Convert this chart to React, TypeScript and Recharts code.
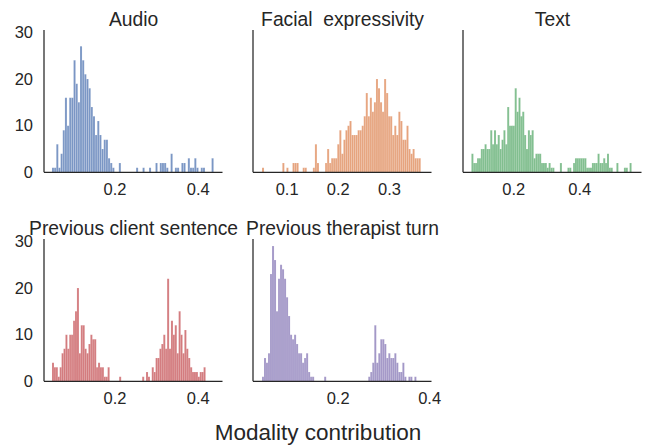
import React from 'react';
import { BarChart, Bar, XAxis, YAxis } from 'recharts';

// histogram counts per bin
const audioCounts = [
  1, 1, 6, 1, 4, 9, 16, 10, 16, 16, 24, 19, 15, 27, 24, 21, 20, 18, 14, 12, 8, 11, 8, 5, 7, 7, 3, 2, 1, 0,
  0, 2, 0, 0, 0, 0, 0, 0, 0, 1, 0, 0, 1, 0, 0, 1, 0, 0, 2, 0, 2, 2, 2, 1, 0, 4, 0, 1, 1, 0,
  2, 2, 0, 3, 1, 1, 3, 1, 0, 1, 1, 0, 0, 0, 3,
];
const facialCounts = [
  1, 0, 0, 0, 0, 0, 0, 0, 0, 0, 2, 0, 1, 0, 0, 2, 2, 2, 0, 0, 1, 1, 0, 0, 0, 1, 6, 2, 0, 0,
  0, 2, 5, 2, 3, 3, 3, 6, 9, 4, 7, 9, 10, 11, 8, 8, 8, 9, 9, 10, 12, 17, 12, 16, 13, 15, 20, 18, 15, 13,
  20, 17, 12, 12, 8, 10, 8, 13, 11, 7, 7, 10, 5, 4, 5, 3, 3, 3,
];
const textCounts = [
  4, 2, 2, 3, 3, 5, 5, 6, 5, 5, 9, 6, 9, 6, 8, 5, 7, 9, 6, 14, 10, 10, 10, 18, 13, 16, 12, 13, 8, 5,
  9, 8, 9, 3, 4, 4, 4, 2, 2, 2, 1, 2, 1, 1, 0, 0, 0, 2, 0, 0, 0, 1, 1, 0, 2, 3, 3, 3, 3, 3,
  3, 1, 1, 1, 2, 2, 2, 4, 2, 2, 3, 2, 4, 1, 1, 0, 0, 2, 0, 0, 0, 1, 1, 0, 2,
];
const clientCounts = [
  4, 3, 3, 1, 3, 6, 7, 10, 7, 10, 10, 13, 15, 20, 6, 12, 12, 7, 6, 8, 10, 9, 9, 3, 4, 3, 3, 1, 1, 3,
  0, 0, 0, 0, 0, 1, 0, 0, 0, 0, 0, 0, 0, 0, 0, 0, 0, 1, 0, 2, 1, 0, 3, 2, 5, 5, 7, 8, 10, 7,
  22, 7, 13, 10, 12, 6, 15, 10, 6, 11, 7, 5, 3, 2, 2, 2, 1, 2, 2, 3,
];
const therapistCounts = [
  1, 5, 4, 6, 23, 29, 26, 15, 22, 25, 24, 22, 18, 14, 10, 9, 10, 8, 6, 6, 4, 5, 6, 2, 1, 1, 0, 0, 0, 0,
  0, 1, 0, 0, 0, 0, 0, 0, 0, 0, 0, 0, 0, 0, 0, 0, 0, 0, 0, 0, 0, 0, 0, 1, 2, 4, 12, 4, 6, 9,
  9, 8, 5, 6, 5, 5, 6, 4, 2, 2, 4, 1, 0, 1, 1, 0, 1,
];

// first bin edge / last bin edge of each histogram
const audioEdges = [0.0487, 0.437];
const facialEdges = [0.0509, 0.361];
const textEdges = [0.0715, 0.5566];
const clientEdges = [0.0487, 0.4172];
const therapistEdges = [0.0335, 0.371];

// x limits
const audioDomain = [0.0295, 0.458];
const facialDomain = [0.0333, 0.382];
const textDomain = [0.046, 0.587];
const clientDomain = [0.0295, 0.458];
const therapistDomain = [0.0138, 0.404];

const audioTicks = [0.2, 0.4];
const facialTicks = [0.1, 0.2, 0.3];
const textTicks = [0.2, 0.4];
const clientTicks = [0.2, 0.4];
const therapistTicks = [0.2, 0.4];
const countTicks = [0, 10, 20, 30];

const titles = ['Audio', 'Facial  expressivity', 'Text', 'Previous client sentence', 'Previous therapist turn'];
const colors = ['#4c72b0', '#dd8452', '#55a868', '#c44e52', '#8172b3'];

const FONT = '"Liberation Sans", Arial, sans-serif';
const INK = '#262626';
const PW = 178.5;
const PH = 142.3;
const colLeft = [44.3, 253.3, 463.3];
const rowTop = [30, 239.4];

const toBins = (counts: number[], edges: number[]) => {
  const w = (edges[1] - edges[0]) / counts.length;
  return counts.map((c, i) => ({ x: edges[0] + (i + 0.5) * w, count: c }));
};

const panels = [
  { counts: audioCounts, edges: audioEdges, domain: audioDomain, ticks: audioTicks, col: 0, row: 0 },
  { counts: facialCounts, edges: facialEdges, domain: facialDomain, ticks: facialTicks, col: 1, row: 0 },
  { counts: textCounts, edges: textEdges, domain: textDomain, ticks: textTicks, col: 2, row: 0 },
  { counts: clientCounts, edges: clientEdges, domain: clientDomain, ticks: clientTicks, col: 0, row: 1 },
  { counts: therapistCounts, edges: therapistEdges, domain: therapistDomain, ticks: therapistTicks, col: 1, row: 1 },
];

const Panel = ({ p, idx }: { p: any; idx: number }) => {
  const left = colLeft[p.col];
  const top = rowTop[p.row];
  const showY = p.col === 0;
  return (
    <div style={{ position: 'absolute', left: left - 40, top: top - 15 }}>
      <BarChart
        width={PW + 60}
        height={PH + 45}
        data={toBins(p.counts, p.edges)}
        margin={{ top: 15, right: 20, bottom: 0, left: 0 }}
        barCategoryGap={0}
        barGap={0}
      >
        <XAxis
          dataKey="x"
          type="number"
          domain={p.domain}
          allowDataOverflow
          ticks={p.ticks}
          interval={0}
          tickFormatter={(v: number) => v.toFixed(1)}
          tickLine={false}
          tickMargin={5}
          height={30}
          axisLine={{ stroke: INK, strokeWidth: 1.25 }}
          tick={{ fill: INK, fontSize: 16.5, fontFamily: FONT }}
        />
        <YAxis
          type="number"
          domain={[0, 30.5]}
          allowDataOverflow
          ticks={countTicks}
          interval={0}
          width={40}
          tickLine={false}
          tickMargin={5}
          axisLine={{ stroke: INK, strokeWidth: 1.25 }}
          tick={showY ? { fill: INK, fontSize: 16.5, fontFamily: FONT } : false}
        />
        <Bar
          dataKey="count"
          fill={colors[idx]}
          fillOpacity={0.75}
          stroke="#ffffff"
          strokeOpacity={0.6}
          strokeWidth={0.25}
          isAnimationActive={false}
        />
      </BarChart>
    </div>
  );
};

export default function App() {
  return (
    <div style={{ position: 'absolute', left: 0, top: 0, width: 645, height: 445, background: '#fff', fontFamily: FONT }}>
      {panels.map((p, i) => (
        <Panel key={i} p={p} idx={i} />
      ))}
      <svg width={645} height={445} style={{ position: 'absolute', left: 0, top: 0, pointerEvents: 'none' }}>
        {panels.map((p, i) => (
          <text
            key={i}
            x={colLeft[p.col] + PW / 2}
            y={rowTop[p.row] - 4.5}
            textAnchor="middle"
            fill={INK}
            fontSize={19.3}
            fontFamily={FONT}
            style={{ whiteSpace: 'pre' }}
          >
            {titles[i]}
          </text>
        ))}
        <text x={318} y={440} textAnchor="middle" fill={INK} fontSize={22.5} fontFamily={FONT}>
          Modality contribution
        </text>
      </svg>
    </div>
  );
}
